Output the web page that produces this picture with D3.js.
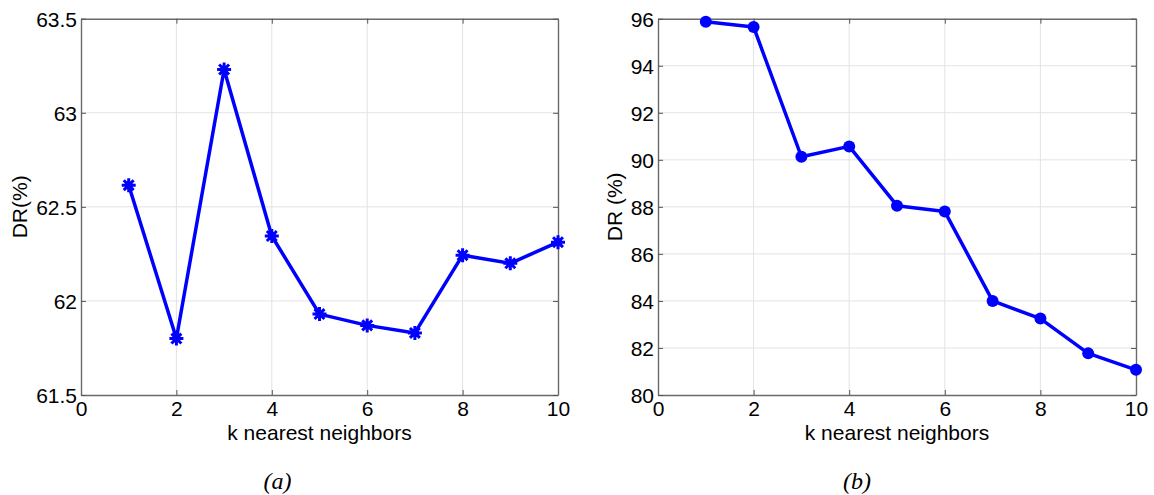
<!DOCTYPE html>
<html>
<head>
<meta charset="utf-8">
<script src="https://cdn.jsdelivr.net/npm/d3@7"></script>
<style>
  html, body { margin: 0; padding: 0; background: #fff; }
  svg { display: block; }
  text { font-family: "Liberation Sans", Arial, sans-serif; fill: #000; }
</style>
</head>
<body>
<svg id="chart" width="1154" height="495"></svg>
<script>
// ---- data ----
const kValues = [1, 2, 3, 4, 5, 6, 7, 8, 9, 10];
const drA = [62.615, 61.80, 63.23, 62.345, 61.93, 61.87, 61.83, 62.243, 62.20, 62.312];
const drB = [95.87, 95.65, 90.13, 90.57, 88.05, 87.80, 84.00, 83.25, 81.77, 81.07];
const xTicks = [0, 2, 4, 6, 8, 10];
const yTicksA = [61.5, 62, 62.5, 63, 63.5];
const yTicksB = [80, 82, 84, 86, 88, 90, 92, 94, 96];
const xLabel = "k nearest neighbors";
const yLabelA = "DR(%)";
const yLabelB = "DR (%)";
const captionA = "(a)";
const captionB = "(b)";

const svg = d3.select("#chart");
const BLUE = "#0000ff";

function panel(opts) {
  const { left, right, top, bottom, yDomain, yTicks, data, ylabel, ylabelX, caption, captionX, marker } = opts;
  const x = d3.scaleLinear().domain([0, 10]).range([left, right]);
  const y = d3.scaleLinear().domain(yDomain).range([bottom, top]);
  const g = svg.append("g");

  // grid
  g.append("g").selectAll("line.vg").data(xTicks.slice(1, -1)).join("line")
    .attr("x1", d => x(d)).attr("x2", d => x(d)).attr("y1", top).attr("y2", bottom)
    .attr("stroke", "#e3e3e3").attr("stroke-width", 1);
  g.append("g").selectAll("line.hg").data(yTicks.slice(1, -1)).join("line")
    .attr("x1", left).attr("x2", right).attr("y1", d => y(d)).attr("y2", d => y(d))
    .attr("stroke", "#e3e3e3").attr("stroke-width", 1);

  // axes
  const fmt = d => String(d);
  const bx = g.append("g").attr("transform", `translate(0,${bottom})`)
    .call(d3.axisBottom(x).tickValues(xTicks).tickFormat(fmt).tickSizeInner(-5).tickSizeOuter(0));
  const tx = g.append("g").attr("transform", `translate(0,${top})`)
    .call(d3.axisTop(x).tickValues(xTicks).tickFormat("").tickSizeInner(-5).tickSizeOuter(0));
  const ly = g.append("g").attr("transform", `translate(${left},0)`)
    .call(d3.axisLeft(y).tickValues(yTicks).tickFormat(fmt).tickSizeInner(-5).tickSizeOuter(0));
  const ry = g.append("g").attr("transform", `translate(${right},0)`)
    .call(d3.axisRight(y).tickValues(yTicks).tickFormat("").tickSizeInner(-5).tickSizeOuter(0));
  [bx, tx, ly, ry].forEach(a => {
    a.select(".domain").attr("stroke", "#6a6a6a").attr("stroke-width", 1.4);
    a.selectAll(".tick line").attr("stroke", "#555").attr("stroke-width", 1);
  });
  bx.selectAll(".tick text").attr("y", 21).attr("dy", null)
    .style("font-size", "21px").style("font-family", '"Liberation Sans", Arial, sans-serif');
  ly.selectAll(".tick text").attr("x", -4).attr("dy", "0.35em")
    .style("font-size", "21px").style("font-family", '"Liberation Sans", Arial, sans-serif');

  // line
  const line = d3.line().x((d, i) => x(kValues[i])).y(d => y(d));
  g.append("path").datum(data).attr("d", line)
    .attr("fill", "none").attr("stroke", BLUE).attr("stroke-width", 3.5)
    .attr("stroke-linejoin", "round");

  // markers
  const mg = g.append("g");
  if (marker === "asterisk") {
    const r = 7;
    data.forEach((d, i) => {
      const cx = x(kValues[i]), cy = y(d);
      const p = d3.path();
      for (let a = 0; a < 4; a++) {
        const ang = a * Math.PI / 4;
        p.moveTo(cx - r * Math.cos(ang), cy - r * Math.sin(ang));
        p.lineTo(cx + r * Math.cos(ang), cy + r * Math.sin(ang));
      }
      mg.append("path").attr("d", p.toString()).attr("stroke", BLUE)
        .attr("stroke-width", 3).attr("fill", "none");
      mg.append("circle").attr("cx", cx).attr("cy", cy).attr("r", 4).attr("fill", BLUE);
    });
  } else {
    mg.selectAll("circle").data(data).join("circle")
      .attr("cx", (d, i) => x(kValues[i])).attr("cy", d => y(d)).attr("r", 6)
      .attr("fill", BLUE);
  }

  // labels
  g.append("text").attr("x", (left + right) / 2).attr("y", 440)
    .attr("text-anchor", "middle").style("font-size", "21px").text(xLabel);
  g.append("text").attr("transform", `translate(${ylabelX},${(top + bottom) / 2}) rotate(-90)`)
    .attr("text-anchor", "middle").style("font-size", "21px").text(ylabel);
  g.append("text").attr("x", captionX).attr("y", 489)
    .attr("text-anchor", "middle")
    .style("font-family", '"Liberation Serif", "Times New Roman", serif')
    .style("font-style", "italic").style("font-size", "24px").text(caption);
}

panel({ left: 81, right: 558, top: 18.7, bottom: 395, yDomain: [61.5, 63.5], yTicks: yTicksA,
  data: drA, ylabel: yLabelA, ylabelX: 27, caption: captionA, captionX: 277.5, marker: "asterisk" });
panel({ left: 658, right: 1136, top: 18.7, bottom: 395, yDomain: [80, 96], yTicks: yTicksB,
  data: drB, ylabel: yLabelB, ylabelX: 622, caption: captionB, captionX: 857, marker: "dot" });
</script>
</body>
</html>
